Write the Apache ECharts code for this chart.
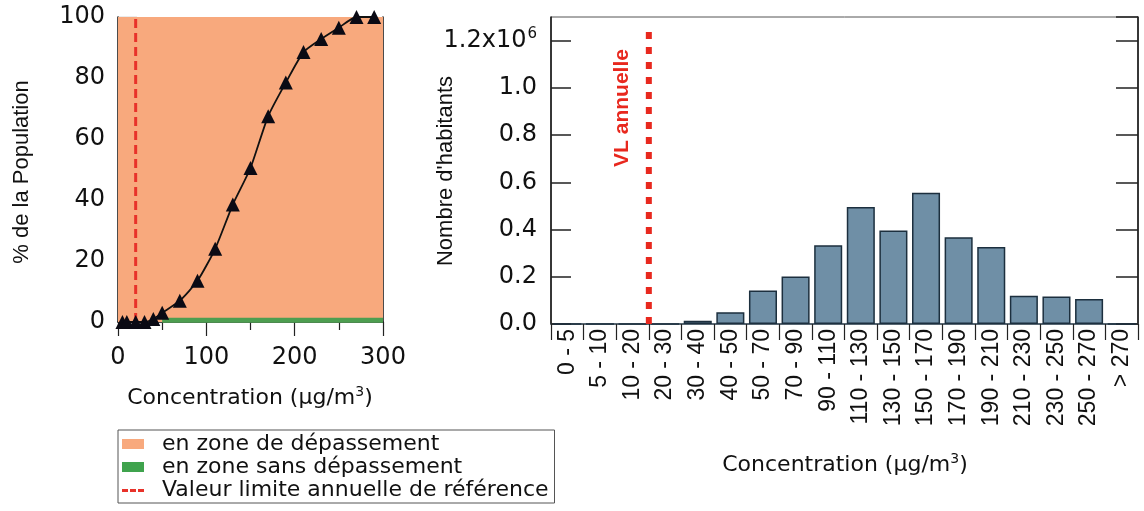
<!DOCTYPE html>
<html>
<head>
<meta charset="utf-8">
<script src="https://cdn.jsdelivr.net/npm/echarts@6/dist/echarts.min.js"></script>
<style>
html,body{margin:0;padding:0;background:#fff;}
#c{width:1144px;height:511px;}
</style>
</head>
<body>
<div id="c"></div>
<script>
// ---- Left chart data (cumulative % of population vs concentration) ----
var cumConc = [5, 10, 20, 30, 40, 50, 70, 90, 110, 130, 150, 170, 190, 210, 230, 250, 270, 290];
var cumPct  = [0, 0, 0, 0, 1, 3, 7, 13.5, 24, 38.5, 50.5, 67.5, 78.5, 88.5, 92.8, 96.5, 100, 100];
var zoneDepassement = [[0, 100], [300, 100]];
var zoneSansDepassement = [[50, 0.6], [300, 0.6]];
var limitValue = 20;
var leftXTicks = [0, 100, 200, 300];
var leftYTicks = [0, 20, 40, 60, 80, 100];

// ---- Right chart data (number of inhabitants per concentration class) ----
var classes = ['0 - 5', '5 - 10', '10 - 20', '20 - 30', '30 - 40', '40 - 50', '50 - 70', '70 - 90',
  '90 - 110', '110 - 130', '130 - 150', '150 - 170', '170 - 190', '190 - 210', '210 - 230',
  '230 - 250', '250 - 270', '> 270'];
var habitants = [0, 0, 0, 0, 14000, 50000, 142000, 201000, 333000, 495000, 396000, 556000,
  367000, 326000, 120000, 116000, 106000, 0];
var limitClassBoundary = 3; // between "10 - 20" and "20 - 30"
var rightYTicks = ['0.0', '0.2', '0.4', '0.6', '0.8', '1.0', '1.2x10^6'];

var names = {
  dep: 'en zone de dépassement',
  sans: 'en zone sans dépassement',
  vl: 'Valeur limite annuelle de référence'
};

var FONT = 'DejaVu Sans';
var FONT2 = 'Liberation Sans';
var INK = '#111111';

var chart = echarts.init(document.getElementById('c'), null, {renderer: 'canvas'});

var option = {
  animation: false,
  backgroundColor: '#ffffff',
  grid: [
    {left: 118, top: 17, width: 265, height: 305},
    {left: 551, top: 17, width: 587, height: 307, show: true, borderColor: '#555', borderWidth: 1, backgroundColor: 'transparent'}
  ],
  xAxis: [
    {
      type: 'value', gridIndex: 0, min: 0, max: 300, interval: 100,
      axisLine: {show: true, onZero: false, lineStyle: {color: '#111', width: 1.5}},
      axisTick: {show: true, length: 14, lineStyle: {color: '#222', width: 1.2}},
      minorTick: {show: true, splitNumber: 2, length: 8, lineStyle: {color: '#222', width: 1.2}},
      splitLine: {show: false},
      axisLabel: {fontFamily: FONT, fontSize: 24, color: INK, margin: 24,
        formatter: function (v) { return leftXTicks.indexOf(v) >= 0 ? String(v) : ''; }}
    },
    {
      type: 'category', gridIndex: 1, data: classes,
      axisLine: {show: true, lineStyle: {color: '#3c5060', width: 1.5}},
      axisTick: {show: true, alignWithLabel: false, interval: 0, length: 16, lineStyle: {color: '#222', width: 1.2}},
      axisLabel: {rotate: 90, interval: 0, fontFamily: FONT2, fontSize: 23, color: INK, margin: 5}
    },
    {
      type: 'value', gridIndex: 1, min: 0, max: classes.length, show: false
    }
  ],
  yAxis: [
    {
      type: 'value', gridIndex: 0, min: 0, max: 100, interval: 20,
      axisLine: {show: true, lineStyle: {color: '#111', width: 1.5}},
      axisTick: {show: true, inside: true, length: 19, lineStyle: {color: '#333', width: 1.2}},
      splitLine: {show: false},
      axisLabel: {fontFamily: FONT, fontSize: 24, color: INK, margin: 13,
        formatter: function (v) { return leftYTicks.indexOf(v) >= 0 ? String(v) : ''; }}
    },
    {
      type: 'value', gridIndex: 0, min: 0, max: 100, position: 'right',
      axisLine: {show: true, lineStyle: {color: '#111', width: 1.5}},
      axisTick: {show: false}, axisLabel: {show: false}, splitLine: {show: false}
    },
    {
      type: 'value', gridIndex: 1, min: 0, max: 1300000, interval: 200000,
      axisLine: {show: true, lineStyle: {color: '#111', width: 1.5}},
      axisTick: {show: true, inside: true, length: 20, lineStyle: {color: '#222', width: 1.5}},
      splitLine: {show: false},
      axisLabel: {
        showMaxLabel: false, fontFamily: FONT, fontSize: 24, color: INK, margin: 14,
        formatter: function (v) {
          var i = Math.round(v / 200000);
          var t = rightYTicks[i];
          if (t === undefined) return '';
          if (t.indexOf('^') >= 0) {
            var p = t.split('^');
            return '{m|' + p[0] + '}{s|' + p[1] + '}';
          }
          return t;
        },
        rich: {
          m: {fontFamily: FONT, fontSize: 24, color: INK},
          s: {fontFamily: FONT, fontSize: 15, color: INK, verticalAlign: 'top', padding: [0, 0, 14, 1]}
        }
      }
    },
    {
      type: 'value', gridIndex: 1, min: 0, max: 1300000, interval: 200000, position: 'right',
      axisLine: {show: true, lineStyle: {color: '#111', width: 1.5}},
      axisTick: {show: true, inside: true, length: 22, lineStyle: {color: '#222', width: 1.5}},
      axisLabel: {show: false}, splitLine: {show: false}
    }
  ],
  legend: {
    left: 118, top: 430, orient: 'vertical',
    padding: [3, 6, 2, 4],
    borderColor: '#555', borderWidth: 1,
    itemGap: 1, itemWidth: 22, itemHeight: 10,
    textStyle: {fontFamily: FONT, fontSize: 22, color: INK, lineHeight: 21, padding: [0, 0, 0, 13]},
    data: [
      {name: names.dep, icon: 'rect', itemStyle: {color: '#f8a97d', borderWidth: 0}},
      {name: names.sans, icon: 'rect', itemStyle: {color: '#3fa34d', borderWidth: 0}},
      {name: names.vl, icon: 'path://M0,0L0.01,0L0.01,10L0,10Z M0,4H6V7H0Z M8,4H14V7H8Z M16,4H22V7H16Z',
        itemStyle: {color: '#e8322a', borderWidth: 0}}
    ],
    selectedMode: false
  },
  graphic: [
    {type: 'text', x: 22, y: 172, rotation: Math.PI / 2, z: 10,
      style: {text: '% de la Population', font: '22px "' + FONT2 + '"', fill: INK, align: 'center', verticalAlign: 'middle'}},
    {type: 'text', x: 446, y: 171, rotation: Math.PI / 2, z: 10,
      style: {text: "Nombre d'habitants", font: '22px "' + FONT2 + '"', fill: INK, align: 'center', verticalAlign: 'middle'}},
    {type: 'text', x: 250, y: 398, z: 10,
      style: {text: 'Concentration (µg/m{s|3})', font: '22px "' + FONT + '"', fill: INK, align: 'center', verticalAlign: 'middle',
        rich: {s: {font: '14px "' + FONT + '"', fill: INK, verticalAlign: 'top', padding: [0, 0, 12, 0]}}}},
    {type: 'text', x: 845, y: 465, z: 10,
      style: {text: 'Concentration (µg/m{s|3})', font: '22px "' + FONT + '"', fill: INK, align: 'center', verticalAlign: 'middle',
        rich: {s: {font: '14px "' + FONT + '"', fill: INK, verticalAlign: 'top', padding: [0, 0, 12, 0]}}}},
    {type: 'text', x: 622, y: 108, rotation: Math.PI / 2, z: 10,
      style: {text: 'VL annuelle', font: 'bold 21px "' + FONT2 + '"', fill: '#e8281e', align: 'center', verticalAlign: 'middle'}}
  ],
  series: [
    {
      name: names.dep, type: 'line', xAxisIndex: 0, yAxisIndex: 0,
      data: zoneDepassement, symbol: 'none', silent: true, z: 1,
      lineStyle: {width: 0, color: '#f8a97d'},
      itemStyle: {color: '#f8a97d'},
      areaStyle: {color: '#f8a97d', opacity: 1}
    },
    {
      name: names.sans, type: 'line', xAxisIndex: 0, yAxisIndex: 0,
      data: zoneSansDepassement, symbol: 'none', silent: true, z: 2,
      lineStyle: {width: 5, color: '#4d9e50'}, itemStyle: {color: '#3fa34d'}
    },
    {
      name: names.vl, type: 'line', xAxisIndex: 0, yAxisIndex: 0,
      data: [[limitValue, 0], [limitValue, 100]], symbol: 'none', silent: true, z: 3,
      lineStyle: {width: 3, color: '#e8322a', type: [9, 5]}, itemStyle: {color: '#e8322a'}
    },
    {
      name: 'cumul', type: 'line', xAxisIndex: 0, yAxisIndex: 0,
      data: cumConc.map(function (c, i) { return [c, cumPct[i]]; }),
      symbol: 'triangle', symbolSize: 14, smooth: 0.2, z: 4,
      lineStyle: {width: 1.8, color: '#111'}, itemStyle: {color: '#0a0a14'}
    },
    {
      name: 'habitants', type: 'bar', xAxisIndex: 1, yAxisIndex: 2,
      data: habitants, barCategoryGap: '14%', z: 2,
      itemStyle: {color: '#6f8fa6', borderColor: '#1c2f3e', borderWidth: 1.5}
    },
    {
      name: 'VL annuelle', type: 'line', xAxisIndex: 2, yAxisIndex: 2,
      data: [[limitClassBoundary, 0], [limitClassBoundary, 1265000]], symbol: 'none', silent: true, z: 5,
      lineStyle: {width: 6, color: '#e8281e', type: [7, 8]}
    }
  ]
};
chart.setOption(option);
</script>
</body>
</html>
